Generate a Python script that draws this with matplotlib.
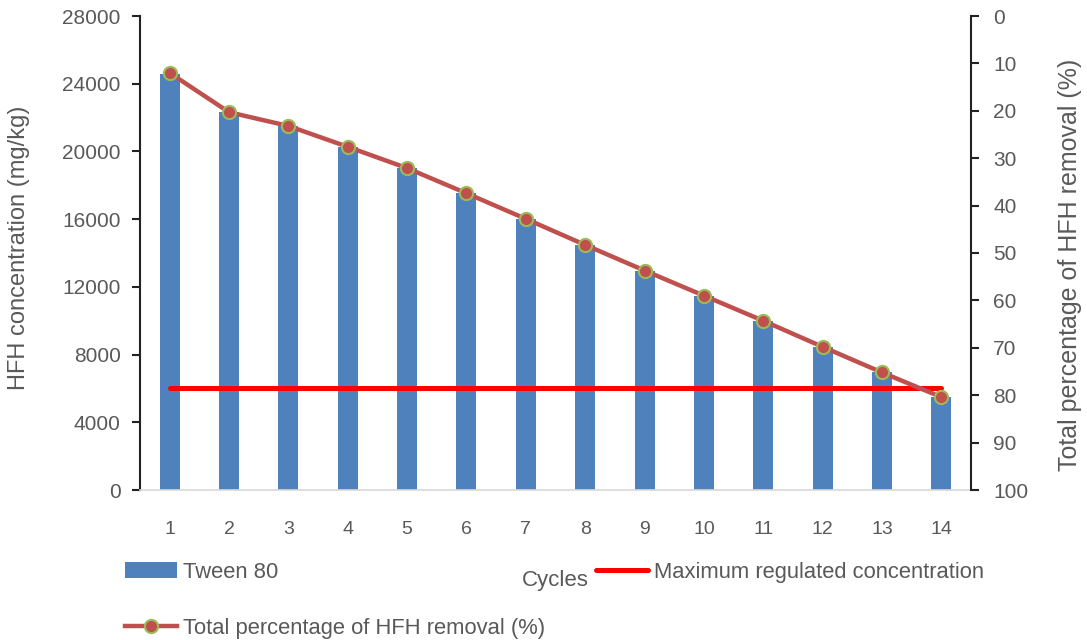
import matplotlib
matplotlib.use('Agg')
import matplotlib.pyplot as plt
import numpy as np

plt.rcParams['font.family'] = ['Liberation Sans', 'DejaVu Sans']

cycles = list(range(1, 15))
tween80 = [24600, 22300, 21500, 20280, 19000, 17520, 16000,
           14470, 12960, 11480, 9980, 8470, 6950, 5480]
removal_pct = [12.0, 20.3, 23.2, 27.6, 32.1, 37.4, 42.8,
               48.3, 53.7, 59.0, 64.3, 69.8, 75.2, 80.4]
max_regulated = 6000

BAR = '#4F81BD'
LINE = '#C0504D'
EDGE = '#9BBB59'
TXT = '#595959'

fig = plt.figure(figsize=(10.87, 6.4), dpi=100)
ax = fig.add_axes([140 / 1087, 1 - 490 / 640, 831 / 1087, 474 / 640])
ax2 = ax.twinx()

xs = np.array(cycles)
bars = ax.bar(xs, tween80, 0.337, color=BAR, label='Tween 80', zorder=2)
maxl, = ax.plot([xs[0], xs[-1]], [max_regulated] * 2, color='#FF0000',
                linewidth=3.6, solid_capstyle='round', zorder=3,
                label='Maximum regulated concentration')
pct, = ax2.plot(xs, removal_pct, '-o', color=LINE, linewidth=3.2,
                markersize=9.5, markerfacecolor=LINE, markeredgecolor=EDGE,
                markeredgewidth=1.5, zorder=4,
                label='Total percentage of HFH removal (%)')

ax.set_xlim(0.5, 14.5)
ax.set_ylim(0, 28000)
ax.set_yticks(np.arange(0, 28001, 4000))
ax2.set_ylim(100, 0)
ax2.set_yticks(np.arange(0, 101, 10))
ax.set_xticks(xs)

for a in (ax, ax2):
    a.spines['top'].set_visible(False)
    a.tick_params(axis='y', labelsize=15, labelcolor=TXT)
ax.spines['right'].set_visible(False)
ax2.spines['left'].set_visible(False)
ax2.spines['bottom'].set_visible(False)
ax.spines['left'].set_color('#222222')
ax.spines['left'].set_linewidth(1.5)
ax2.spines['right'].set_color('#222222')
ax2.spines['right'].set_linewidth(1.5)
ax.spines['bottom'].set_color('#D9D9D9')
ax.spines['bottom'].set_linewidth(1.2)
ax.tick_params(axis='x', length=0, pad=22, labelsize=14, labelcolor=TXT)
ax.tick_params(axis='y', length=6, width=1.5, color='#222222', pad=8)
ax2.tick_params(axis='y', length=6, width=1.5, color='#222222', pad=10)

ax.set_ylabel('HFH concentration (mg/kg)', fontsize=17, color=TXT)
ax.yaxis.set_label_coords((30 - 140) / 831, 0.51)
ax2.set_ylabel('Total percentage of HFH removal (%)', fontsize=18,
               color=TXT, rotation=90)
ax2.yaxis.set_label_coords((1058 - 140) / 831, 0.475)
ax.set_xlabel('Cycles', fontsize=16, color=TXT)
ax.xaxis.set_label_coords((555 - 140) / 831, -80 / 474)

fig.legend(handles=[bars, pct, maxl], ncol=2, loc='upper left',
           bbox_to_anchor=(116 / 1087, 1 - 553 / 640), frameon=False,
           fontsize=15.8, labelcolor=TXT, handlelength=2.4,
           handletextpad=0.25, labelspacing=1.6, columnspacing=2.3,
           borderaxespad=0)

fig.savefig('out.png', dpi=100)
